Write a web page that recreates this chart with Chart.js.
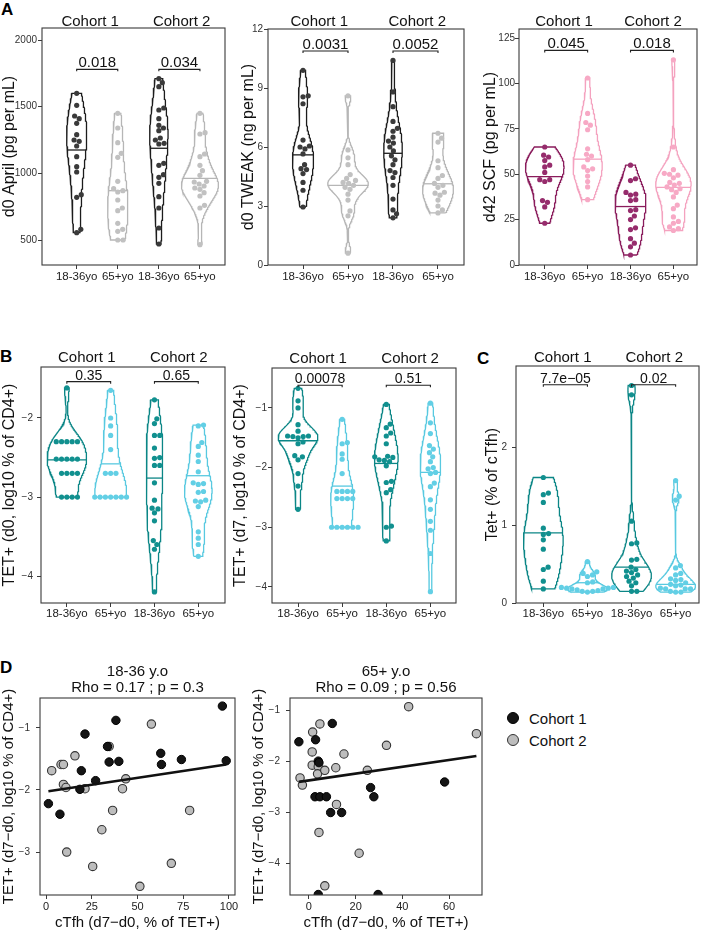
<!DOCTYPE html>
<html>
<head>
<meta charset="utf-8">
<script src="https://cdn.jsdelivr.net/npm/chart.js@4.4.1/dist/chart.umd.min.js"></script>
<style>
  body { margin: 0; background: #fff; width: 704px; height: 933px; position: relative; overflow: hidden;
         font-family: "Liberation Sans", Arial, Helvetica, sans-serif; }
  canvas { position: absolute; }
  .tag { position: absolute; font-weight: bold; font-size: 17px; line-height: 17px; color: #000; }
  .legend { position: absolute; left: 507px; top: 707px; font-size: 15px; color: #111; }
  .legend div { height: 22px; display: flex; align-items: center; }
  .legend .dot { width: 12px; height: 12px; border-radius: 50%; box-sizing: border-box; margin-right: 10px; }
</style>
</head>
<body>
<div class="tag" style="left:1px;top:1px">A</div>
<div class="tag" style="left:0px;top:348px">B</div>
<div class="tag" style="left:477px;top:350px">C</div>
<div class="tag" style="left:0px;top:659px">D</div>
<div class="legend">
  <div><span class="dot" style="background:#151515;border:1px solid #000"></span>Cohort 1</div>
  <div><span class="dot" style="background:#bdbdbd;border:1.5px solid #333"></span>Cohort 2</div>
</div>

<script>
// ---- shared labels
const xLabels = ["18-36yo", "65+yo", "18-36yo", "65+yo"];
const cohorts = ["Cohort 1", "Cohort 2"];

// ---- A: d0 April (pg per mL)
const aprilC1Young = [1600, 1510, 1430, 1410, 1375, 1290, 1250, 1240, 1205, 1125, 1050, 1010, 840, 820, 580, 555];
const aprilC1Old = [1450, 1340, 1230, 1150, 1120, 940, 885, 870, 860, 800, 740, 720, 625, 580, 565, 500, 500];
const aprilC2Young = [1710, 1680, 1650, 1490, 1475, 1410, 1360, 1340, 1320, 1265, 1250, 1225, 1220, 1075, 1060, 990, 970, 925, 825, 740, 590, 470];
const aprilC2Old = [1450, 1305, 1295, 1145, 1125, 1060, 1020, 985, 940, 935, 920, 905, 890, 880, 855, 830, 760, 740, 465];
const aprilMedians = [1175, 870, 1188, 962];
const aprilP = ["0.018", "0.034"];
const aprilTicks = [500, 1000, 1500, 2000];

// ---- A: d0 TWEAK (ng per mL)
const tweakC1Young = [9.9, 8.6, 8.55, 8.2, 6.35, 6.05, 6.0, 5.9, 5.65, 5.1, 4.9, 4.85, 4.65, 4.2, 3.8, 2.95];
const tweakC1Old = [8.6, 5.85, 5.45, 5.1, 4.6, 4.4, 4.3, 4.2, 4.15, 4.05, 3.95, 3.85, 3.6, 3.3, 2.75, 2.5, 0.6];
const tweakC2Young = [10.4, 8.8, 8.05, 7.3, 6.95, 6.8, 6.5, 6.3, 6.2, 6.0, 5.8, 5.55, 5.35, 5.1, 4.8, 4.7, 4.45, 4.05, 3.35, 2.8, 2.6, 2.4];
const tweakC2Old = [6.7, 6.45, 6.25, 5.3, 4.95, 4.55, 4.4, 4.15, 4.05, 3.95, 3.7, 3.65, 3.55, 3.3, 3.0, 2.8, 2.65];
const tweakMedians = [5.6, 4.05, 5.68, 4.13];
const tweakP = ["0.0031", "0.0052"];
const tweakTicks = [0, 3, 6, 9, 12];

// ---- A: d42 SCF (pg per mL)
const scfC1Young = [65, 60.5, 59.5, 57.5, 55, 54, 51, 47, 47, 46, 35.5, 34.5, 32, 23];
const scfC1Old = [103, 83.5, 78.5, 77, 74.5, 64, 61, 60, 58, 54, 53, 52, 49, 46, 43, 36];
const scfC2Young = [55, 47.5, 46.5, 40, 39, 38.5, 36, 35.5, 30.5, 30, 27, 25, 20.5, 19.5, 14.5, 12, 10, 5.5];
const scfC2Old = [113, 65, 52.5, 50.5, 50, 49.5, 48, 45.5, 45, 44, 43, 42, 41.5, 40, 37.5, 33, 31, 26.5, 24, 23, 21, 20, 19];
const scfMedians = [48.7, 58.3, 32.2, 42.8];
const scfP = ["0.045", "0.018"];
const scfTicks = [0, 25, 50, 75, 100, 125];

// ---- B: TET+ d0 (log10 % of CD4+)
const tetD0C1Young = [-1.62, -2.3, -2.3, -2.3, -2.3, -2.3, -2.52, -2.52, -2.52, -2.52, -2.52, -2.7, -2.7, -2.7, -2.7, -3, -3, -3, -3];
const tetD0C1Old = [-1.65, -2.0, -2.1, -2.22, -2.4, -2.7, -2.7, -2.7, -3, -3, -3, -3, -3, -3, -3];
const tetD0C2Young = [-1.77, -2.01, -2.07, -2.22, -2.22, -2.38, -2.5, -2.51, -2.6, -2.6, -2.82, -3.04, -3.14, -3.15, -3.2, -3.3, -3.55, -3.6, -3.66, -4.2];
const tetD0C2Old = [-2.09, -2.1, -2.31, -2.36, -2.47, -2.55, -2.68, -2.82, -2.83, -2.84, -2.93, -2.94, -3.04, -3.05, -3.06, -3.12, -3.44, -3.52, -3.6, -3.75];
const tetD0Medians = [-2.53, -2.58, -2.76, -2.73];
const tetD0P = ["0.35", "0.65"];
const tetD0Ticks = [-4, -3, -2];

// ---- B: TET+ d7 (log10 % of CD4+)
const tetD7C1Young = [-0.67, -0.88, -1.0, -1.28, -1.39, -1.47, -1.47, -1.48, -1.48, -1.5, -1.57, -1.6, -1.8, -1.82, -1.87, -2.1, -2.31, -2.7];
const tetD7C1Old = [-1.19, -1.58, -1.6, -1.77, -1.86, -2.1, -2.4, -2.4, -2.4, -2.4, -2.52, -2.52, -2.52, -2.52, -3, -3, -3, -3, -3, -3];
const tetD7C2Young = [-0.94, -1.27, -1.33, -1.42, -1.47, -1.6, -1.81, -1.82, -1.83, -1.87, -1.88, -1.9, -1.97, -2.23, -2.25, -2.37, -2.42, -2.98, -3.0, -3.23];
const tetD7C2Old = [-0.92, -1.25, -1.43, -1.63, -1.69, -1.75, -1.82, -1.9, -2.0, -2.02, -2.08, -2.1, -2.26, -2.32, -2.54, -2.7, -2.9, -3.05, -3.44, -4.08];
const tetD7Medians = [-1.55, -2.31, -1.93, -2.08];
const tetD7P = ["0.00078", "0.51"];
const tetD7Ticks = [-4, -3, -2, -1];

// ---- C: Tet+ (% of cTfh)
const ctfhC1Young = [1.61, 1.41, 1.39, 1.29, 0.96, 0.89, 0.88, 0.81, 0.69, 0.46, 0.43, 0.28, 0.18];
const ctfhC1Old = [0.53, 0.4, 0.38, 0.36, 0.34, 0.27, 0.26, 0.2, 0.2, 0.19, 0.19, 0.18, 0.18, 0.17, 0.16, 0.15, 0.15, 0.14];
const ctfhC2Young = [2.79, 2.67, 1.05, 0.77, 0.76, 0.56, 0.55, 0.46, 0.43, 0.41, 0.39, 0.36, 0.34, 0.32, 0.28, 0.26, 0.22, 0.15, 0.15];
const ctfhC2Old = [1.57, 1.37, 1.32, 0.48, 0.45, 0.38, 0.36, 0.31, 0.3, 0.29, 0.26, 0.24, 0.23, 0.22, 0.19, 0.18, 0.18, 0.18, 0.15, 0.14, 0.14];
const ctfhMedians = [0.9, 0.26, 0.46, 0.24];
const ctfhP = ["7.7e\u221205", "0.02"];
const ctfhTicks = [0, 1, 2];

// ---- D: correlations (x = cTfh d7-d0, y = TET+ d7-d0)
const youngCtfhC1 = [1.3, 7.6, 21.3, 19.3, 18.5, 27.1, 34.5, 33.6, 38.2, 39.8, 62.7, 63.1, 74.0, 96.4, 98.5];
const youngTetC1 = [-2.22, -2.39, -1.10, -1.69, -1.99, -1.85, -1.55, -1.30, -0.88, -1.54, -1.41, -1.59, -1.51, -0.65, -1.53];
const youngCtfhC2 = [3.1, 8.2, 9.5, 9.5, 10.9, 15.8, 21.3, 11.3, 25.5, 30.5, 34.5, 36.4, 41.8, 43.6, 51.3, 57.6, 68.5, 78.5];
const youngTetC2 = [-1.69, -1.59, -1.59, -1.91, -1.96, -1.45, -1.98, -3.0, -3.23, -2.64, -1.30, -2.33, -1.98, -1.82, -3.55, -0.94, -3.18, -2.33];
const youngFit = [-2.026, 0.00442]; // intercept, slope
const youngTitle = ["18-36 y.o", "Rho = 0.17 ; p = 0.3"];

const oldCtfhC1 = [-4.3, 2.85, 10.0, 4.0, 4.3, 2.6, 4.7, 7.5, 9.3, 14.0, 26.4, 27.8, 58.1, 4.0, 29.6];
const oldTetC1 = [-1.61, -1.57, -1.25, -1.99, -2.02, -2.69, -2.69, -2.69, -3.0, -3.0, -2.51, -2.69, -2.40, -4.61, -4.61];
const oldCtfhC2 = [4.7, 1.6, 1.4, 1.4, 4.0, 3.7, -3.8, -2.8, 6.8, 11.5, 15.0, 11.8, 4.3, 21.5, 6.8, 33.2, 25.0, 42.7, 71.7];
const oldTetC2 = [-1.26, -1.42, -1.81, -2.07, -2.10, -2.24, -2.32, -2.46, -2.17, -2.12, -1.85, -2.84, -3.39, -3.80, -4.44, -1.68, -2.17, -0.92, -1.45];
const oldFit = [-2.369, 0.00668];
const oldTitle = ["65+ y.o", "Rho = 0.09 ; p = 0.56"];

const FONT = '"Liberation Sans", Arial, Helvetica, sans-serif';
Chart.defaults.font.family = FONT;

const dark = { line: "#1c1c1c", dot: "#3a3a3a" };
const grey = { line: "#b6b6b6", dot: "#c1c1c1" };
const maroon = { line: "#8a1c5c", dot: "#962c6c" };
const pink = { line: "#f4a2bf", dot: "#f7a9c5" };
const teal = { line: "#0b8686", dot: "#11908f" };
const cyan = { line: "#58c9e0", dot: "#62cfe5" };

const minus = (v) => (v < 0 ? "\u2212" : "") + Math.abs(v);

// text + frame plugin
const annot = {
  id: "annot",
  afterDatasetsDraw(chart, args, opts) {
    const { ctx, chartArea: a, scales } = chart;
    ctx.save();
    ctx.strokeStyle = "#3a3a3a";
    ctx.lineWidth = 1.1;
    ctx.strokeRect(a.left, a.top, a.right - a.left, a.bottom - a.top);
    (opts.texts || []).forEach((t) => {
      ctx.font = t.size + "px " + FONT;
      ctx.fillStyle = t.color || "#111";
      ctx.textAlign = "center";
      ctx.textBaseline = "alphabetic";
      const px = scales.x.getPixelForValue(t.x);
      const py = (t.y == null ? a.top : scales.y.getPixelForValue(t.y)) - t.dy;
      ctx.fillText(t.text, px, py);
    });
    ctx.restore();
  },
};

function kde(vals) {
  const n = vals.length;
  const s = [...vals].sort((a, b) => a - b);
  const mean = s.reduce((a, b) => a + b, 0) / n;
  const sd = Math.sqrt(s.reduce((a, b) => a + (b - mean) ** 2, 0) / (n - 1));
  const q = (p) => {
    const h = (n - 1) * p, lo = Math.floor(h);
    return s[lo] + (h - lo) * (s[Math.min(lo + 1, n - 1)] - s[lo]);
  };
  let lo = Math.min(sd, (q(0.75) - q(0.25)) / 1.34);
  if (!(lo > 0)) lo = sd || 1;
  const bw = 0.9 * lo * Math.pow(n, -0.2);
  const f = (y) =>
    s.reduce((acc, v) => acc + Math.exp(-0.5 * ((y - v) / bw) ** 2), 0) / (n * bw * Math.sqrt(2 * Math.PI));
  return { min: s[0], max: s[n - 1], f };
}

// deterministic beeswarm, offsets worked out in pixels
function swarm(vals, center, kx, ky, d) {
  const order = vals.map((v, i) => i).sort((a, b) => vals[a] - vals[b]);
  const placed = [];
  const out = [];
  order.forEach((i) => {
    const py = vals[i] * ky;
    const near = placed.filter((p) => Math.abs(p.y - py) < d);
    const cands = [0];
    near.forEach((p) => {
      const s = Math.sqrt(d * d - (p.y - py) ** 2);
      cands.push(p.x + s, p.x - s);
    });
    cands.sort((a, b) => Math.abs(a) - Math.abs(b) || b - a);
    const px = cands.find((c) => near.every((p) => Math.hypot(p.x - c, p.y - py) >= d - 0.01));
    placed.push({ x: px, y: py });
    out[i] = { x: center + px / kx, y: vals[i] };
  });
  return out;
}

function makeCanvas(box) {
  const c = document.createElement("canvas");
  c.width = box[2] - box[0];
  c.height = box[3] - box[1];
  c.style.left = box[0] + "px";
  c.style.top = box[1] + "px";
  document.body.appendChild(c);
  return c;
}

function axes(p, xTicks, xFmt, xFont, yFmt) {
  const [cl, ct, cr, cb] = p.canvas;
  const [al, at, ar, ab] = p.area;
  const grid = { drawOnChartArea: false, drawTicks: true, tickLength: 4, color: "#3a3a3a", lineWidth: 1 };
  return {
    layout: { padding: { top: at - ct, right: cr - ar, left: 0, bottom: 0 } },
    scales: {
      x: {
        type: "linear", min: p.x[0], max: p.x[1],
        afterFit: (s) => { s.height = cb - ab; },
        afterBuildTicks: (s) => { s.ticks = xTicks.map((v) => ({ value: v })); },
        ticks: { callback: xFmt, font: { size: xFont }, color: "#222", padding: p.xPad, maxRotation: 0, autoSkip: false },
        grid, border: { display: false },
        title: p.xTitle
          ? { display: true, text: p.xTitle, font: { size: 15 }, color: "#111", padding: { top: 0, bottom: 1 } }
          : { display: false },
      },
      y: {
        type: "linear", min: p.y[0], max: p.y[1],
        afterFit: (s) => { s.width = al - cl; },
        afterBuildTicks: (s) => { s.ticks = p.yTicks.map((v) => ({ value: v })); },
        ticks: { callback: yFmt, font: { size: 10 }, color: "#333", padding: p.yPad, autoSkip: false },
        grid, border: { display: false },
        title: { display: true, text: p.yTitle, font: { size: p.yTitleSize }, color: "#111", padding: { top: 0, bottom: 0 } },
      },
    },
  };
}

function violinPanel(p) {
  const canvas = makeCanvas(p.canvas);
  const [al, at, ar, ab] = p.area;
  const kx = (ar - al) / (p.x[1] - p.x[0]);
  const ky = (ab - at) / (p.y[1] - p.y[0]);
  const dens = p.groups.map(kde);
  const steps = 160;
  // peak density of each group; "area" scales all against the panel peak, "width" each on its own
  const peaks = dens.map((k) => {
    let m = 0;
    for (let j = 0; j <= steps; j++) m = Math.max(m, k.f(k.min + ((k.max - k.min) * j) / steps));
    return m;
  });
  const panelPeak = Math.max(...peaks);
  const datasets = [];
  p.groups.forEach((vals, i) => {
    const c = i + 1, k = dens[i], col = p.colors[i];
    const norm = p.scale === "width" ? peaks[i] : panelPeak;
    const half = (y) => (0.45 * k.f(y)) / norm;
    const right = [], left = [];
    for (let j = 0; j <= steps; j++) {
      const y = k.min + ((k.max - k.min) * j) / steps;
      right.push({ x: c + half(y), y });
      left.unshift({ x: c - half(y), y });
    }
    datasets.push({
      data: right.concat(left, [right[0]]), showLine: true, pointRadius: 0,
      borderColor: col.line, borderWidth: 1.3, tension: 0, order: 3,
    });
    const m = p.medians[i];
    datasets.push({
      data: [{ x: c - half(m), y: m }, { x: c + half(m), y: m }], showLine: true, pointRadius: 0,
      borderColor: col.line, borderWidth: 1.3, order: 2,
    });
    datasets.push({
      data: swarm(vals, c, kx, ky, 5.3), pointRadius: 2.6, pointBackgroundColor: col.dot,
      pointBorderWidth: 0, showLine: false, order: 1,
    });
  });
  // significance brackets
  const tip = 2 / ky;
  [[1, 2], [3, 4]].forEach(([a, b]) => {
    datasets.push({
      data: [{ x: a, y: p.bracket - tip }, { x: a, y: p.bracket }, { x: b, y: p.bracket }, { x: b, y: p.bracket - tip }],
      showLine: true, pointRadius: 0, borderColor: "#222", borderWidth: 1.1, order: 0,
    });
  });
  const texts = [
    { text: cohorts[0], x: (p.x[0] + 2.5) / 2, y: null, dy: p.cohortDy, size: 15 },
    { text: cohorts[1], x: (2.5 + p.x[1]) / 2, y: null, dy: p.cohortDy, size: 15 },
    { text: p.pvals[0], x: 1.5, y: p.bracket, dy: 2, size: p.pSize },
    { text: p.pvals[1], x: 3.5, y: p.bracket, dy: 2, size: p.pSize },
  ];
  const ax = axes(p, [1, 2, 3, 4], (v) => xLabels[v - 1], 11.5, p.yFmt || ((v) => v));
  new Chart(canvas, {
    type: "scatter",
    data: { datasets },
    options: {
      responsive: false, animation: false, events: [],
      layout: ax.layout,
      plugins: { legend: { display: false }, tooltip: { enabled: false }, annot: { texts } },
      scales: ax.scales,
    },
    plugins: [annot],
  });
}

function scatterPanel(p) {
  const canvas = makeCanvas(p.canvas);
  const allX = p.c1x.concat(p.c2x);
  const x0 = Math.min(...allX), x1 = Math.max(...allX);
  const pts = (xs, ys) => xs.map((x, i) => ({ x, y: ys[i] }));
  const datasets = [
    {
      data: [{ x: x0, y: p.fit[0] + p.fit[1] * x0 }, { x: x1, y: p.fit[0] + p.fit[1] * x1 }],
      showLine: true, pointRadius: 0, borderColor: "#111", borderWidth: 2.6, order: 0,
    },
    {
      data: pts(p.c1x, p.c1y), pointRadius: 4.2, pointBackgroundColor: "#151515",
      pointBorderColor: "#000", pointBorderWidth: 1, clip: { left: 0, top: 0, right: 0, bottom: 0 }, order: 1,
    },
    {
      data: pts(p.c2x, p.c2y), pointRadius: 4.2, pointBackgroundColor: "#bdbdbd",
      pointBorderColor: "#333", pointBorderWidth: 1.1, clip: { left: 0, top: 0, right: 0, bottom: 0 }, order: 2,
    },
  ];
  const mid = (p.x[0] + p.x[1]) / 2;
  const texts = [
    { text: p.title[0], x: mid, y: null, dy: 22, size: 15 },
    { text: p.title[1], x: mid, y: null, dy: 6, size: 15 },
  ];
  const ax = axes(p, p.xTicks, (v) => minus(v), 11, minus);
  new Chart(canvas, {
    type: "scatter",
    data: { datasets },
    options: {
      responsive: false, animation: false, events: [],
      layout: ax.layout,
      plugins: { legend: { display: false }, tooltip: { enabled: false }, annot: { texts } },
      scales: ax.scales,
    },
    plugins: [annot],
  });
}

// ---- panels
violinPanel({
  canvas: [0, 0, 238, 290], area: [42, 28, 225, 265], x: [0.156, 4.61], y: [312.5, 2090],
  groups: [aprilC1Young, aprilC1Old, aprilC2Young, aprilC2Old], medians: aprilMedians,
  colors: [dark, grey, dark, grey], bracket: 1780, pvals: aprilP, pSize: 15, cohortDy: 2,
  yTicks: aprilTicks, yTitle: "d0 April (pg per mL)", yTitleSize: 16, yPad: 1, xPad: 1,
});
violinPanel({
  canvas: [239, 0, 476, 290], area: [268, 29, 464, 265], x: [0.222, 4.578], y: [0, 12],
  groups: [tweakC1Young, tweakC1Old, tweakC2Young, tweakC2Old], medians: tweakMedians,
  colors: [dark, grey, dark, grey], bracket: 10.88, pvals: tweakP, pSize: 15, cohortDy: 3,
  yTicks: tweakTicks, yTitle: "d0 TWEAK (ng per mL)", yTitleSize: 16, yPad: 1, xPad: 1,
});
violinPanel({
  canvas: [481, 0, 704, 290], area: [519, 29, 697, 265], x: [0.40, 4.55], y: [0, 130],
  groups: [scfC1Young, scfC1Old, scfC2Young, scfC2Old], medians: scfMedians,
  colors: [maroon, pink, maroon, pink], bracket: 118.2, pvals: scfP, pSize: 15, cohortDy: 3,
  yTicks: scfTicks, yTitle: "d42 SCF (pg per mL)", yTitleSize: 16, yPad: 0, xPad: 1,
});
violinPanel({
  canvas: [0, 335, 236, 630], area: [41, 367, 225, 603], x: [0.41, 4.61], y: [-4.34, -1.355],
  groups: [tetD0C1Young, tetD0C1Old, tetD0C2Young, tetD0C2Old], medians: tetD0Medians,
  colors: [teal, cyan, teal, cyan], bracket: -1.54, pvals: tetD0P, pSize: 14, cohortDy: 5,
  yTicks: tetD0Ticks, yFmt: minus, yTitle: "TET+ (d0, log10 % of CD4+)", yTitleSize: 16, yPad: 4, xPad: 0,
});
violinPanel({
  canvas: [231, 335, 468, 630], area: [272, 368, 456, 603], x: [0.41, 4.58], y: [-4.27, -0.33],
  groups: [tetD7C1Young, tetD7C1Old, tetD7C2Young, tetD7C2Old], medians: tetD7Medians,
  colors: [teal, cyan, teal, cyan], bracket: -0.62, pvals: tetD7P, pSize: 14, cohortDy: 5,
  yTicks: tetD7Ticks, yFmt: minus, yTitle: "TET+ (d7, log10 % of CD4+)", yTitleSize: 16, yPad: 1, xPad: 0,
});
violinPanel({
  canvas: [483, 335, 704, 630], area: [516, 366, 699, 603], x: [0.38, 4.53], y: [0, 3.04], scale: "width",
  groups: [ctfhC1Young, ctfhC1Old, ctfhC2Young, ctfhC2Old], medians: ctfhMedians,
  colors: [teal, cyan, teal, cyan], bracket: 2.80, pvals: ctfhP, pSize: 14, cohortDy: 4,
  yTicks: ctfhTicks, yTitle: "Tet+ (% of cTfh)", yTitleSize: 16, yPad: 5, xPad: 0,
});
scatterPanel({
  canvas: [0, 640, 250, 933], area: [40, 698, 235, 895], x: [-3.3, 103.3], y: [-3.69, -0.52],
  c1x: youngCtfhC1, c1y: youngTetC1, c2x: youngCtfhC2, c2y: youngTetC2, fit: youngFit, title: youngTitle,
  xTicks: [0, 25, 50, 75, 100], yTicks: [-3, -2, -1], xTitle: "cTfh (d7\u2212d0, % of TET+)",
  yTitle: "TET+ (d7\u2212d0, log10 % of CD4+)", yTitleSize: 15, yPad: 6, xPad: 1,
});
scatterPanel({
  canvas: [250, 640, 497, 933], area: [290, 698, 482, 895], x: [-8.1, 74.1], y: [-4.62, -0.75],
  c1x: oldCtfhC1, c1y: oldTetC1, c2x: oldCtfhC2, c2y: oldTetC2, fit: oldFit, title: oldTitle,
  xTicks: [0, 20, 40, 60], yTicks: [-4, -3, -2, -1], xTitle: "cTfh (d7\u2212d0, % of TET+)",
  yTitle: "TET+ (d7\u2212d0, log10 % of CD4+)", yTitleSize: 15, yPad: 6, xPad: 1,
});
</script>
</body>
</html>
